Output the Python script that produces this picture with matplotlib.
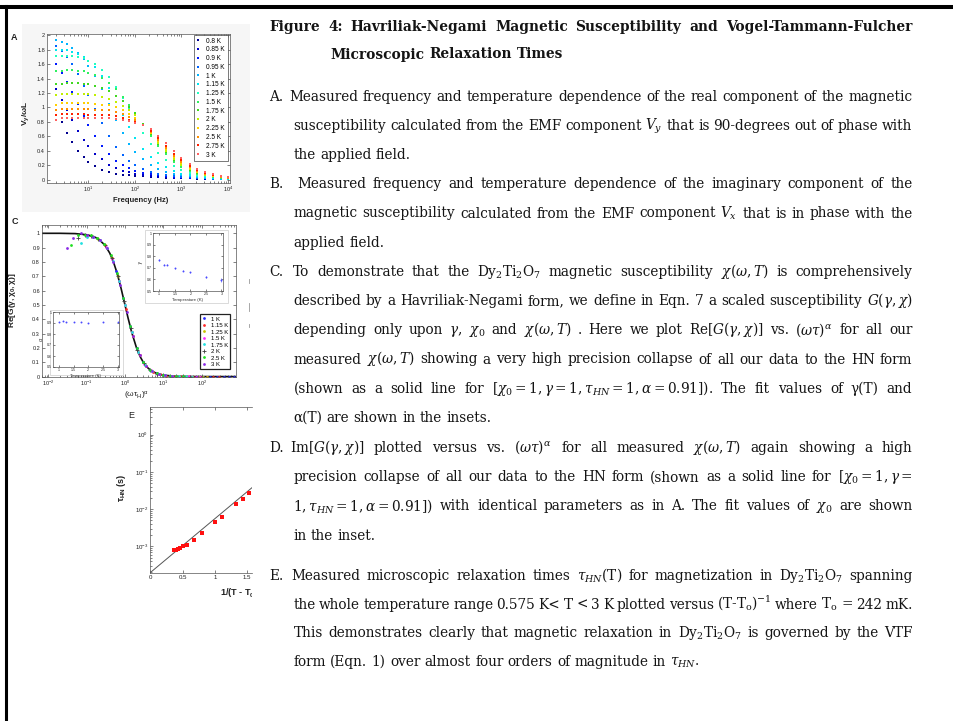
import numpy as np
import matplotlib
matplotlib.use('Agg')
import matplotlib.pyplot as plt
from matplotlib.transforms import Bbox, TransformedBbox
from matplotlib.patches import Rectangle
from matplotlib.lines import Line2D

W, H = 954, 721
plt.rcParams['mathtext.fontset'] = 'dejavuserif'
plt.rcParams['font.family'] = ['Liberation Sans', 'DejaVu Sans']
nan = np.nan

# ---------------- Panel A data ----------------
freq_hz = [2, 2.7, 3.5, 4.5, 6, 8, 10, 14, 20, 28, 40, 55, 75, 100,
           150, 220, 320, 470, 700, 1000, 1500, 2200, 3200, 4700, 7000, 10000]
temps_a = ['0.8 K', '0.85 K', '0.9 K', '0.95 K', '1 K', '1.15 K', '1.25 K',
           '1.5 K', '1.75 K', '2 K', '2.25 K', '2.5 K', '2.75 K', '3 K']
colors_a = ['#00008f', '#0000c8', '#0018ff', '#0064ff', '#00b4ff', '#00e6f0',
            '#20ffc0', '#30f060', '#40d820', '#c0f000', '#ffd000', '#ff9000',
            '#ff2000', '#ff6060']
vy_080 = [nan, 0.80, 0.65, 0.52, 0.40, 0.31, 0.25, 0.19, 0.14, 0.11, 0.085, 0.07, 0.058, 0.05,
          0.045, 0.038, 0.032, 0.027, 0.023, 0.02, 0.017, 0.015, 0.013, 0.011, 0.01, 0.009]
vy_085 = [1.25, 1.10, 0.96, 0.82, 0.68, 0.55, 0.46, 0.36, 0.28, 0.21, 0.16, 0.125, 0.1, 0.08,
          0.065, 0.052, 0.043, 0.035, 0.029, 0.024, 0.02, 0.017, 0.014, 0.012, 0.01, 0.009]
vy_090 = [1.60, 1.48, 1.36, 1.22, 1.05, 0.88, 0.76, 0.60, 0.46, 0.35, 0.26, 0.20, 0.155, 0.12,
          0.095, 0.075, 0.06, 0.048, 0.038, 0.031, 0.025, 0.02, 0.017, 0.014, 0.012, 0.01]
vy_095 = [1.85, 1.78, 1.70, 1.60, 1.46, 1.30, 1.17, 0.98, 0.78, 0.60, 0.45, 0.34, 0.26, 0.20,
          0.15, 0.11, 0.085, 0.065, 0.05, 0.04, 0.031, 0.025, 0.02, 0.016, 0.013, 0.011]
vy_100 = [1.93, 1.91, 1.88, 1.83, 1.76, 1.67, 1.58, 1.43, 1.25, 1.05, 0.83, 0.65, 0.50, 0.38,
          0.28, 0.21, 0.15, 0.11, 0.08, 0.06, 0.045, 0.034, 0.026, 0.02, 0.016, 0.013]
vy_115 = [1.80, 1.80, 1.79, 1.77, 1.74, 1.70, 1.65, 1.56, 1.43, 1.27, 1.08, 0.90, 0.73, 0.58,
          0.43, 0.32, 0.23, 0.17, 0.12, 0.085, 0.06, 0.045, 0.033, 0.025, 0.019, 0.015]
vy_125 = [1.72, 1.72, 1.72, 1.71, 1.70, 1.68, 1.65, 1.60, 1.52, 1.42, 1.28, 1.13, 0.98, 0.83,
          0.65, 0.50, 0.37, 0.27, 0.19, 0.13, 0.09, 0.065, 0.045, 0.032, 0.024, 0.018]
vy_150 = [1.50, 1.51, 1.52, 1.52, 1.51, 1.50, 1.48, 1.45, 1.41, 1.34, 1.25, 1.15, 1.04, 0.93,
          0.76, 0.61, 0.47, 0.35, 0.25, 0.18, 0.125, 0.085, 0.06, 0.042, 0.03, 0.022]
vy_175 = [1.32, 1.33, 1.34, 1.34, 1.34, 1.33, 1.32, 1.30, 1.27, 1.23, 1.16, 1.09, 1.01, 0.93,
          0.77, 0.63, 0.50, 0.38, 0.27, 0.20, 0.14, 0.095, 0.065, 0.045, 0.032, 0.023]
vy_200 = [1.17, 1.18, 1.19, 1.19, 1.19, 1.18, 1.18, 1.17, 1.15, 1.12, 1.08, 1.02, 0.96, 0.89,
          0.76, 0.64, 0.51, 0.40, 0.29, 0.21, 0.15, 0.10, 0.07, 0.05, 0.035, 0.025]
vy_225 = [1.04, 1.06, 1.06, 1.06, 1.06, 1.06, 1.06, 1.05, 1.04, 1.03, 1.00, 0.96, 0.91, 0.86,
          0.76, 0.65, 0.53, 0.42, 0.31, 0.23, 0.16, 0.11, 0.08, 0.055, 0.038, 0.028]
vy_250 = [0.97, 0.98, 0.98, 0.98, 0.98, 0.98, 0.98, 0.97, 0.97, 0.96, 0.94, 0.91, 0.87, 0.83,
          0.76, 0.66, 0.55, 0.44, 0.33, 0.25, 0.17, 0.12, 0.085, 0.06, 0.04, 0.03]
vy_275 = [0.90, 0.91, 0.91, 0.91, 0.91, 0.91, 0.90, 0.90, 0.90, 0.89, 0.88, 0.86, 0.83, 0.80,
          0.76, 0.68, 0.58, 0.47, 0.36, 0.27, 0.19, 0.13, 0.09, 0.06, 0.045, 0.035]
vy_300 = [0.83, 0.85, 0.86, 0.86, 0.86, 0.86, 0.86, 0.86, 0.85, 0.85, 0.84, 0.83, 0.81, 0.79,
          0.76, 0.70, 0.61, 0.51, 0.40, 0.30, 0.22, 0.15, 0.11, 0.08, 0.055, 0.04]
series_a = [vy_080, vy_085, vy_090, vy_095, vy_100, vy_115, vy_125,
            vy_150, vy_175, vy_200, vy_225, vy_250, vy_275, vy_300]

# ---------------- Panel C data ----------------
hn_x = [0.006, 0.01, 0.02, 0.05, 0.1, 0.15, 0.2, 0.3, 0.4, 0.5, 0.6, 0.7, 0.8, 1.0, 1.2, 1.5,
        2, 2.5, 3, 4, 5, 7, 10, 20, 50, 100, 300, 800]
hn_re = [1.0, 1.0, 1.0, 0.998, 0.99, 0.978, 0.962, 0.917, 0.862, 0.80, 0.735, 0.671, 0.61,
         0.50, 0.41, 0.308, 0.20, 0.138, 0.10, 0.059, 0.038, 0.02, 0.01, 0.0025, 0.0004,
         0.0001, 0.0, 0.0]
temps_c = ['1 K', '1.15 K', '1.25 K', '1.5 K', '1.75 K', '2 K', '2.5 K', '3 K']
colors_c = ['#2a2aff', '#ff2a2a', '#c8c400', '#ff2aff', '#20e0e0', '#404040', '#20e020', '#8a2ae6']
markers_c = ['o', 'o', 'o', 'o', 'o', '+', 'o', 'o']
cx_100 = [0.6, 0.9, 1.35, 2.0, 3.0, 4.5, 6.7, 10, 15, 22, 33, 50, 75, 110, 170, 250, 380, 520, 700]
cy_100 = [0.735, 0.55, 0.355, 0.2, 0.1, 0.047, 0.022, 0.01, 0.0044, 0.002, 0.0009, 0.0004,
          0.0002, 0.0001, 0, 0, 0, 0, 0]
cx_115 = [0.3, 0.45, 0.7, 1.05, 1.6, 2.4, 3.6, 5.4, 8, 12, 18, 27, 40, 60, 90, 135, 200, 280]
cy_115 = [0.915, 0.83, 0.67, 0.475, 0.28, 0.148, 0.072, 0.033, 0.015, 0.007, 0.003, 0.0014,
          0.0006, 0.0003, 0.0001, 0, 0, 0]
cx_125 = [0.2, 0.3, 0.45, 0.65, 1.0, 1.5, 2.2, 3.3, 5, 7.5, 11, 17, 25, 38, 57, 85, 110, 140]
cy_125 = [0.96, 0.915, 0.83, 0.70, 0.5, 0.31, 0.17, 0.084, 0.038, 0.017, 0.008, 0.0035,
          0.0016, 0.0007, 0.0003, 0.0001, 0.0001, 0.0]
cx_150 = [0.1, 0.15, 0.22, 0.32, 0.47, 0.7, 1.0, 1.5, 2.2, 3.2, 4.7, 7, 10, 15, 22, 32, 47, 70, 90]
cy_150 = [0.98, 0.975, 0.955, 0.905, 0.82, 0.67, 0.5, 0.31, 0.17, 0.089, 0.043, 0.02, 0.01,
          0.0044, 0.002, 0.001, 0.0005, 0.0002, 0.0001]
cx_175 = [0.07, 0.1, 0.15, 0.22, 0.33, 0.48, 0.7, 1.0, 1.5, 2.2, 3.3, 5, 7.5, 11, 17, 25, 38, 57]
cy_175 = [0.93, 0.975, 0.975, 0.955, 0.90, 0.81, 0.67, 0.5, 0.31, 0.17, 0.084, 0.038, 0.017,
          0.008, 0.0035, 0.0016, 0.0007, 0.0003]
cx_200 = [0.06, 0.09, 0.13, 0.2, 0.3, 0.45, 0.65, 0.95, 1.4, 2.1, 3.1, 4.6, 7, 10, 15, 22, 33, 50]
cy_200 = [0.97, 0.985, 0.98, 0.96, 0.915, 0.83, 0.70, 0.525, 0.34, 0.185, 0.094, 0.045, 0.02,
          0.01, 0.0044, 0.002, 0.001, 0.0004]
cx_250 = [0.04, 0.06, 0.09, 0.13, 0.19, 0.28, 0.42, 0.62, 0.9, 1.35, 2.0, 3.0, 4.5, 6.7, 10, 15, 22, 33]
cy_250 = [0.92, 0.99, 0.99, 0.985, 0.965, 0.925, 0.85, 0.72, 0.55, 0.355, 0.2, 0.1, 0.047,
          0.022, 0.01, 0.0044, 0.002, 0.001]
cx_300 = [0.03, 0.045, 0.07, 0.1, 0.15, 0.22, 0.33, 0.5, 0.75, 1.1, 1.6, 2.4, 3.5, 5, 7.5, 11, 17]
cy_300 = [0.90, 0.97, 1.00, 0.99, 0.975, 0.955, 0.90, 0.80, 0.64, 0.45, 0.28, 0.15, 0.075,
          0.038, 0.017, 0.008, 0.004]
series_cx = [cx_100, cx_115, cx_125, cx_150, cx_175, cx_200, cx_250, cx_300]
series_cy = [cy_100, cy_115, cy_125, cy_150, cy_175, cy_200, cy_250, cy_300]

inset_T = [1.0, 1.15, 1.25, 1.5, 1.75, 2.0, 2.5, 3.0]
gamma_T = [0.77, 0.725, 0.725, 0.695, 0.675, 0.66, 0.62, 0.595]
gamma_err = [0.01, 0.005, 0.005, 0.005, 0.005, 0.005, 0.008, 0.02]
alpha_T = [0.905, 0.915, 0.91, 0.905, 0.905, 0.90, 0.91, 0.91]

# ---------------- Panel E data ----------------
inv_dT = [0.365, 0.396, 0.43, 0.46, 0.50, 0.57, 0.68, 0.805, 1.0, 1.105, 1.33, 1.43, 1.53]
tau_hn = [7.9e-4, 8.1e-4, 8.4e-4, 8.9e-4, 1.0e-3, 1.12e-3, 1.5e-3, 2.26e-3, 4.6e-3,
          6.3e-3, 1.35e-2, 1.86e-2, 2.8e-2]
vtf_x = [0.0, 1.6]
vtf_tau = [2.0e-4, 4.1e-2]

# ---------------- figure ----------------
fig = plt.figure(figsize=(W / 100, H / 100), dpi=100)
fig.patch.set_facecolor('white')


def add_ax(l, t, r, b):
    return fig.add_axes([l / W, 1 - b / H, (r - l) / W, (b - t) / H])


def fx(x):
    return x / W


def fy(y):
    return 1 - y / H


def mstyle(ax, fs, top=True, right=True):
    ax.tick_params(which='both', direction='in', top=top, right=right, labelsize=fs,
                   length=2.0, width=0.4, pad=1.5, colors='#222222')
    ax.tick_params(which='minor', length=1.1)
    for s in ax.spines.values():
        s.set_linewidth(0.5)
        s.set_color('#555555')


# page borders
fig.add_artist(Line2D([0, 1], [fy(7), fy(7)], color='black', lw=2.9, transform=fig.transFigure))
fig.add_artist(Line2D([fx(6.5), fx(6.5)], [0, fy(6)], color='black', lw=2.2, transform=fig.transFigure))
# light background of pasted image A
fig.add_artist(Rectangle((fx(22), fy(212)), (250 - 22) / W, (212 - 24) / H, facecolor='#f6f6f6',
                         edgecolor='none', transform=fig.transFigure, zorder=-1))

# ---- Panel A ----
axA = add_ax(47, 34, 230, 183)
axA.set_xscale('log')
for lab, col, vals in zip(temps_a, colors_a, series_a):
    axA.plot(freq_hz, vals, ls='none', marker='s', ms=2.0, mew=0, color=col, label=lab)
axA.set_xlim(1.3, 1.1e4)
axA.set_ylim(-0.046, 2.018)
axA.set_xticks([10, 100, 1000, 10000])
axA.set_xticklabels([r'$\mathregular{10^{1}}$', r'$\mathregular{10^{2}}$',
                     r'$\mathregular{10^{3}}$', r'$\mathregular{10^{4}}$'])
yt = [0, 0.2, 0.4, 0.6, 0.8, 1.0, 1.2, 1.4, 1.6, 1.8, 2.0]
axA.set_yticks(yt)
axA.set_yticklabels(['0', '0.2', '0.4', '0.6', '0.8', '1', '1.2', '1.4', '1.6', '1.8', '2'])
mstyle(axA, 4.0)
legA = axA.legend(loc='upper right', bbox_to_anchor=(0.99, 1.0), fontsize=4.7, frameon=True,
                  fancybox=False, edgecolor='#444444', framealpha=1, handlelength=0.5,
                  handletextpad=0.9, labelspacing=0.27, borderpad=0.45, borderaxespad=0.1,
                  markerscale=1.0)
legA.get_frame().set_linewidth(0.5)
fig.text(fx(141), fy(200), 'Frequency (Hz)', ha='center', va='center', fontsize=5.5,
         weight='bold', color='#222222')
fig.text(fx(26), fy(113), r'V$_\mathregular{y}$/$\mathregular{\omega}$L', ha='center', va='center',
         fontsize=6, weight='bold', rotation=90, color='#222222')
fig.text(fx(14), fy(37), 'A', ha='center', va='center', fontsize=6.5, weight='bold', color='#222222')

# ---- Panel C ----
axC = add_ax(42, 225, 236, 377)
axC.set_xscale('log')
axC.plot(hn_x, hn_re, color='#111111', lw=1.2, zorder=1)
for lab, col, mk, xs, ys in zip(temps_c, colors_c, markers_c, series_cx, series_cy):
    if mk == '+':
        axC.plot(xs, ys, ls='none', marker='+', ms=2.6, mew=0.6, color=col, label=lab, zorder=2)
    else:
        axC.plot(xs, ys, ls='none', marker='o', ms=2.0, mew=0, color=col, label=lab, zorder=2)
axC.set_xlim(0.00684, 787)
axC.set_ylim(-0.003, 1.058)
axC.set_xticks([0.01, 0.1, 1, 10, 100])
axC.set_xticklabels([r'$\mathregular{10^{-2}}$', r'$\mathregular{10^{-1}}$', r'$\mathregular{10^{0}}$',
                     r'$\mathregular{10^{1}}$', r'$\mathregular{10^{2}}$'])
axC.set_yticks([0, 0.1, 0.2, 0.3, 0.4, 0.5, 0.6, 0.7, 0.8, 0.9, 1.0])
axC.set_yticklabels(['0', '0.1', '0.2', '0.3', '0.4', '0.5', '0.6', '0.7', '0.8', '0.9', '1'])
mstyle(axC, 4.0)
legC = axC.legend(loc='lower right', bbox_to_anchor=(0.97, 0.05), fontsize=4.3, frameon=True,
                  fancybox=False, edgecolor='#222222', framealpha=1, handlelength=0.5,
                  handletextpad=0.9, labelspacing=0.22, borderpad=0.4, borderaxespad=0.0)
legC.get_frame().set_linewidth(0.9)
fig.text(fx(137), fy(396), r'$\mathregular{(\omega\tau_{H})^{\alpha}}$', ha='center', va='center',
         fontsize=6, color='#222222')
fig.text(fx(12), fy(300), r'Re[G($\mathregular{\gamma,\chi_{0},\chi}$)]', ha='center', va='center',
         fontsize=6, weight='bold', rotation=90, color='#222222')
fig.text(fx(15), fy(222), 'C', ha='center', va='center', fontsize=6.5, weight='bold', color='#222222')

# inset frames
for (l, t, r, b) in [(145, 230, 228, 303), (50, 310, 123, 375)]:
    fig.add_artist(Rectangle((fx(l), fy(b)), (r - l) / W, (b - t) / H, facecolor='white',
                             edgecolor='#cccccc', lw=0.5, transform=fig.transFigure, zorder=0.5))

axG = add_ax(153, 233, 223, 291)
axG.set_zorder(1)
axG.errorbar(inset_T, gamma_T, yerr=gamma_err, ls='none', marker='o', ms=1.4, mew=0,
             color='#4a4aff', elinewidth=0.4, capsize=0)
axG.set_xlim(0.8, 3.05)
axG.set_ylim(0.5, 1.0)
axG.set_xticks([1, 1.5, 2, 2.5, 3])
axG.set_xticklabels(['1', '1.5', '2', '2.5', '3'])
axG.set_yticks([0.5, 0.6, 0.7, 0.8, 0.9, 1.0])
axG.set_yticklabels(['0.5', '0.6', '0.7', '0.8', '0.9', '1'])
mstyle(axG, 2.6)
axG.tick_params(length=1.2, pad=1)
axG.set_xlabel('Temperature (K)', fontsize=3.2, labelpad=1, color='#333333')
axG.set_ylabel(r'$\gamma$', fontsize=3.6, labelpad=1, color='#333333')

axAl = add_ax(53, 312, 119, 367)
axAl.set_zorder(1)
axAl.plot(inset_T, alpha_T, ls='none', marker='o', ms=1.4, mew=0, color='#4a4aff')
axAl.set_xlim(0.8, 3.05)
axAl.set_ylim(0.5, 1.0)
axAl.set_xticks([1, 1.5, 2, 2.5, 3])
axAl.set_xticklabels(['1', '1.5', '2', '2.5', '3'])
axAl.set_yticks([0.5, 0.6, 0.7, 0.8, 0.9, 1.0])
axAl.set_yticklabels(['0.5', '0.6', '0.7', '0.8', '0.9', '1'])
mstyle(axAl, 2.6)
axAl.tick_params(length=1.2, pad=1)
axAl.set_xlabel('Temperature (K)', fontsize=3.2, labelpad=1, color='#333333')
axAl.set_ylabel(r'$\alpha$', fontsize=3.6, labelpad=1, color='#333333')

# fragments of cropped panel D
for (y0, y1) in [(279, 283), (303, 311), (324, 327)]:
    fig.add_artist(Line2D([fx(249.5), fx(249.5)], [fy(y0), fy(y1)], color='#999999', lw=0.6,
                          transform=fig.transFigure))

# ---- Panel E ----
clipE = TransformedBbox(Bbox([[0, 0], [252 / W, 1]]), fig.transFigure)
axE = add_ax(150.5, 407, 252, 573)
axE.set_yscale('log')
axE.plot(vtf_x, vtf_tau, color='#555555', lw=0.7)
axE.plot(inv_dT, tau_hn, ls='none', marker='s', ms=2.2, mew=0, color='#ff1010')
axE.set_xlim(0, 1.576)
axE.set_ylim(1.93e-4, 5.56)
axE.spines['right'].set_visible(False)
axE.set_xticks([0, 0.5, 1, 1.5])
axE.set_xticklabels(['0', '0.5', '1', '1.5'])
axE.set_yticks([1e-3, 1e-2, 1e-1, 1])
axE.set_yticklabels([r'$\mathregular{10^{-3}}$', r'$\mathregular{10^{-2}}$',
                     r'$\mathregular{10^{-1}}$', r'$\mathregular{10^{0}}$'])
mstyle(axE, 4.4, right=False)
for lbl in axE.get_xticklabels():
    lbl.set_clip_box(clipE)
    lbl.set_clip_on(True)
tE = fig.text(fx(220), fy(593), r'1/(T - T$_\mathregular{0}$) (K$^\mathregular{-1}$)', ha='left',
              va='center', fontsize=6.6, weight='bold', color='#222222')
tE.set_clip_box(clipE)
tE.set_clip_on(True)
fig.text(fx(122), fy(488), r'$\mathregular{\tau_{HN}}$ (s)', ha='center', va='center', fontsize=6.5,
         weight='bold', rotation=90, color='#222222')
fig.text(fx(131), fy(415), 'E', ha='center', va='center', fontsize=6.5, color='#222222')

# ---------------- body text ----------------
renderer = fig.canvas.get_renderer()
BODY = dict(family=['DejaVu Serif'], size=9.8, color='#141414')
TITLE = dict(family=['DejaVu Serif'], size=9.9, color='#141414', weight='bold')


def split_tokens(s):
    toks, cur, inmath = [], '', False
    for ch in s:
        if ch == '$':
            inmath = not inmath
            cur += ch
        elif ch == ' ' and not inmath:
            if cur:
                toks.append(cur)
                cur = ''
        else:
            cur += ch
    if cur:
        toks.append(cur)
    return toks


def set_line(x0, x1, yb, s, justify, style, space=4.3):
    toks = split_tokens(s)
    objs = [fig.text(0, 0, t, ha='left', va='baseline', **style) for t in toks]
    ws = [o.get_window_extent(renderer).width for o in objs]
    n = len(objs)
    gap = (x1 - x0 - sum(ws)) / (n - 1) if (justify and n > 1) else space
    x = x0
    for o, w in zip(objs, ws):
        o.set_position((fx(x), fy(yb)))
        x += w + gap


XR = 912.5
LX = 269.5
set_line(LX, XR, 31, 'Figure 4: Havriliak-Negami Magnetic Susceptibility and Vogel-Tammann-Fulcher',
         True, TITLE)
set_line(330, XR, 58.5, 'Microscopic Relaxation  Times', False, TITLE, space=5.0)

lines = [
    ('A.', 289, 100.7, 'Measured frequency and temperature dependence of the real component of the magnetic', True),
    (None, 293.5, 129.9, r'susceptibility calculated from the EMF component $V_y$ that is 90-degrees out of phase with', True),
    (None, 293.5, 159.1, 'the applied field.', False),
    ('B.', 297, 188.3, 'Measured frequency and temperature dependence of the imaginary component of the', True),
    (None, 293.5, 217.5, r'magnetic susceptibility calculated from the EMF component $V_x$ that is in phase with the', True),
    (None, 293.5, 246.7, 'applied field.', False),
    ('C.', 293, 275.9, r'To demonstrate that the Dy$_2$Ti$_2$O$_7$ magnetic susceptibility $\chi(\omega,T)$ is comprehensively', True),
    (None, 293.5, 305.1, r'described by a Havriliak-Negami form, we define in Eqn. 7 a scaled susceptibility $G(\gamma,\chi)$', True),
    (None, 293.5, 334.3, r'depending only upon $\gamma$, $\chi_0$ and $\chi(\omega,T)$ . Here we plot Re$[G(\gamma,\chi)]$ vs. $(\omega\tau)^\alpha$ for all our', True),
    (None, 293.5, 363.5, r'measured $\chi(\omega,T)$ showing a very high precision collapse of all our data to the HN form', True),
    (None, 293.5, 392.7, r'(shown as a solid line for $[\chi_0 = 1, \gamma = 1, \tau_{HN} = 1, \alpha = 0.91]$). The fit values of γ(T) and', True),
    (None, 293.5, 421.9, 'α(T) are shown in the insets.', False),
    ('D.', 290, 452.0, r'Im$[G(\gamma,\chi)]$ plotted versus vs. $(\omega\tau)^\alpha$ for all measured $\chi(\omega,T)$ again showing a high', True),
    (None, 293.5, 481.2, r'precision collapse of all our data to the HN form (shown as a solid line for $[\chi_0 = 1, \gamma =$', True),
    (None, 293.5, 510.4, r'$1, \tau_{HN} = 1, \alpha = 0.91])$ with identical parameters as in A. The fit values of $\chi_0$ are shown', True),
    (None, 293.5, 539.6, 'in the inset.', False),
    ('E.', 291.5, 580.0, r'Measured microscopic relaxation times $\tau_{HN}$(T) for magnetization in Dy$_2$Ti$_2$O$_7$ spanning', True),
    (None, 293.5, 608.6, r'the whole temperature range 0.575 K< T < 3 K plotted versus (T-T$_\mathrm{o}$)$^{-1}$ where T$_\mathrm{o}$ = 242 mK.', True),
    (None, 293.5, 637.2, r'This demonstrates clearly that magnetic relaxation in Dy$_2$Ti$_2$O$_7$ is governed by the VTF', True),
    (None, 293.5, 665.8, r'form (Eqn. 1) over almost four orders of magnitude in $\tau_{HN}$.', False),
]
for lab, x0, yb, s, just in lines:
    if lab:
        fig.text(fx(LX), fy(yb), lab, ha='left', va='baseline', **BODY)
    set_line(x0, XR, yb, s, just, BODY)

fig.savefig('out.png', dpi=100, facecolor='white')
